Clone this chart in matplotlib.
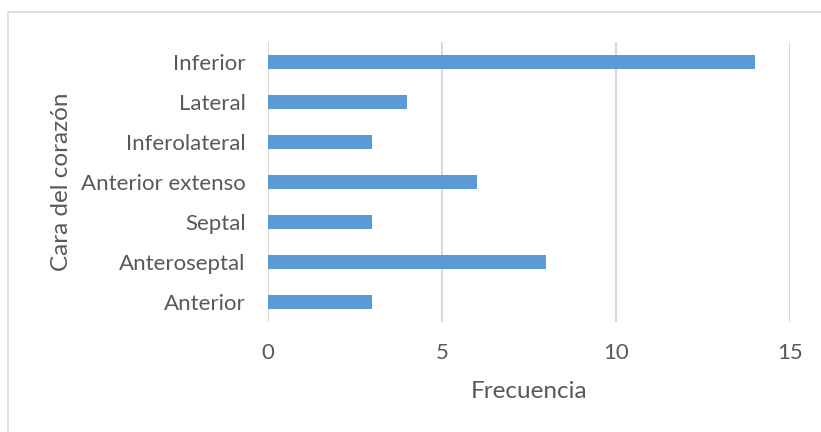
import matplotlib
matplotlib.use("Agg")
import matplotlib.pyplot as plt
from matplotlib.patches import Rectangle

categories = ["Anterior", "Anteroseptal", "Septal", "Anterior extenso",
              "Inferolateral", "Lateral", "Inferior"]
frecuencia = [3, 8, 3, 6, 3, 4, 14]
x_ticks = [0, 5, 10, 15]

W, H = 821, 432
fig = plt.figure(figsize=(W / 100, H / 100), dpi=100)
plt.rcParams["font.family"] = ["Lato", "DejaVu Sans"]
text_color = "#595959"

# chart frame
fig.patches.append(Rectangle((8 / W, -0.01), 1.0, 1 - 12 / H + 0.01,
                             transform=fig.transFigure, fill=False,
                             edgecolor="#D9D9D9", linewidth=1.2))

ax = fig.add_axes([268 / W, 1 - 322 / H, (790 - 268) / W, (322 - 42) / H])
ypos = list(range(len(categories)))
ax.barh(ypos, frecuencia, height=0.36, color="#5B9BD5", zorder=3)

ax.set_xlim(0, 15)
ax.set_ylim(-0.5, len(categories) - 0.5)
ax.set_xticks(x_ticks)
ax.set_xticklabels([str(t) for t in x_ticks])
ax.set_yticks(ypos)
ax.set_yticklabels(categories)
ax.grid(axis="x", color="#D9D9D9", linewidth=1.5, zorder=0)
for s in ax.spines.values():
    s.set_visible(False)
ax.tick_params(axis="both", length=0, labelsize=16, colors=text_color)
ax.tick_params(axis="x", pad=15)
ax.tick_params(axis="y", pad=16)
ax.set_xlabel("Frecuencia", fontsize=17.5, color=text_color, va="center")
ax.set_ylabel("Cara del corazón", fontsize=17.5, color=text_color, va="center")
ax.xaxis.set_label_coords(0.5, (322 - 392) / 280)
ax.yaxis.set_label_coords((61 - 268) / 522, 0.5)

fig.savefig("out.png", dpi=100)
